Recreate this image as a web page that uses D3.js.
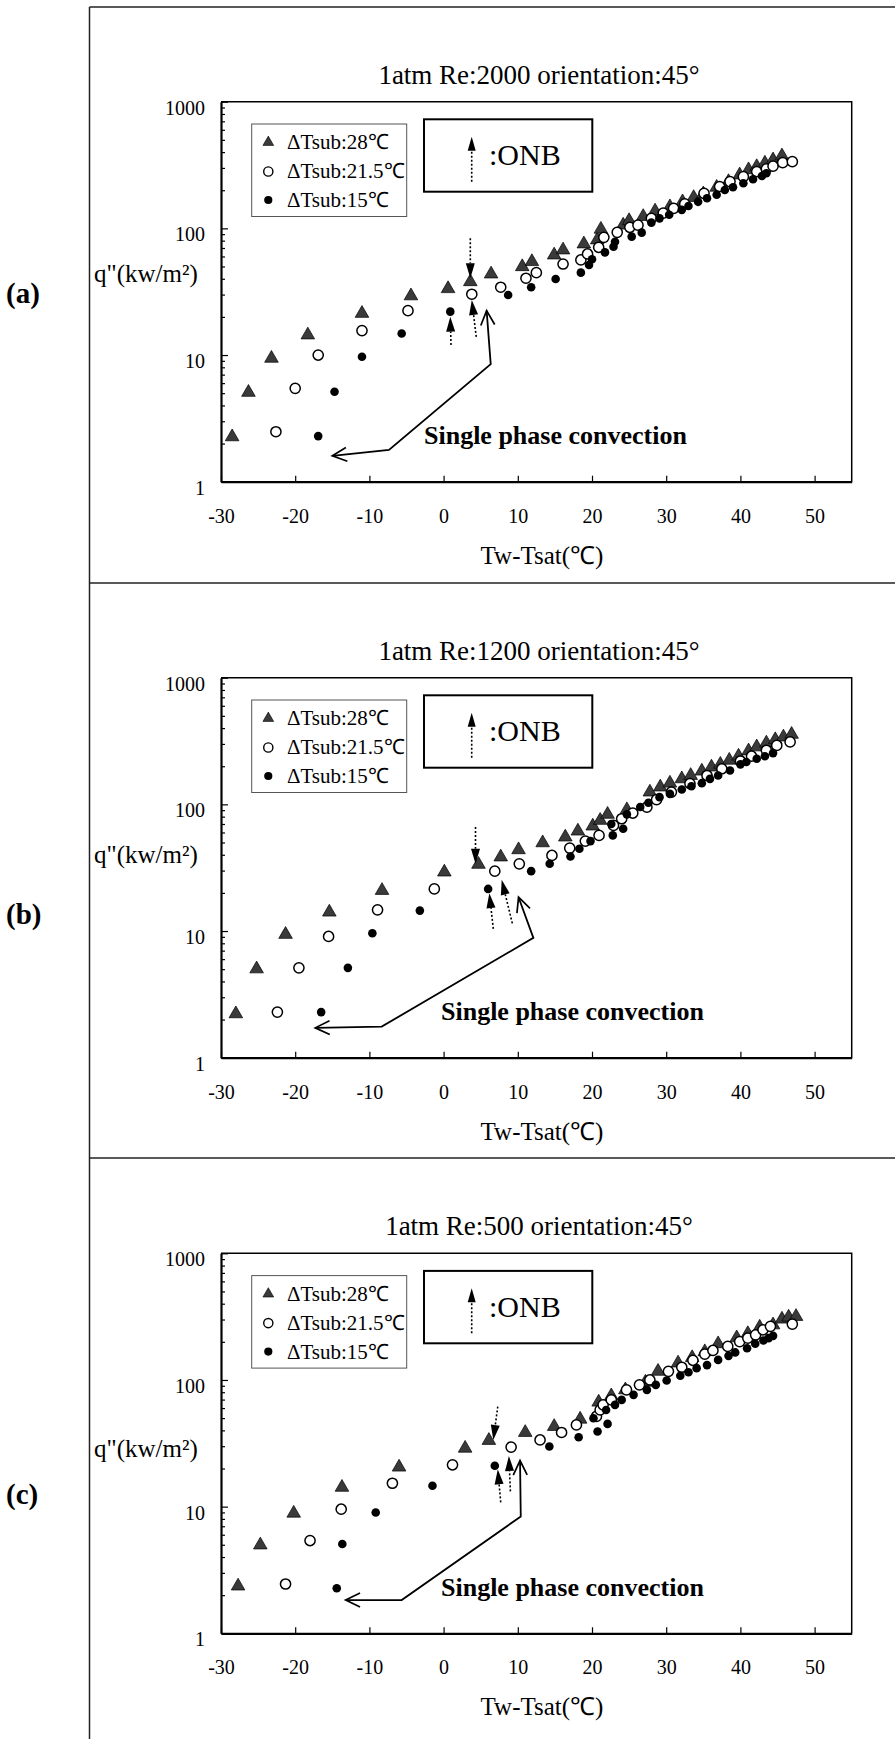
<!DOCTYPE html>
<html>
<head>
<meta charset="utf-8">
<script src="https://cdn.jsdelivr.net/npm/d3@7"></script>
<style>
  body { margin: 0; background: #fff; }
  svg text { font-family: "Liberation Serif", "Times New Roman", serif; fill: #000; }
</style>
</head>
<body>
<svg id="chart" width="895" height="1739"></svg>
<script>
// ---- data: [Tw-Tsat, q"] ----
// Re 2000
const a28 = [[-28.5,2.26],[-26.3,5.07],[-23.2,9.42],[-18.3,14.4],[-11.0,21.3],[-4.4,29.3],[0.6,33.4],[3.6,37.9],[6.4,43.6],[10.6,49.8],[11.9,54.6],[14.9,61.6],[16.1,67.5],[18.9,75.3],[20.7,81],[21.2,98.4],[24.2,106],[25.0,115],[26.9,124],[28.5,137],[30.5,148],[32.2,162],[33.7,175],[35.0,187],[36.8,211],[38.4,234],[39.9,264],[41.1,290],[42.2,307],[43.3,327],[44.4,347],[45.6,373]];
const a21 = [[-22.6,2.48],[-20.0,5.46],[-16.9,10],[-11.0,15.6],[-4.8,22.4],[3.8,30.2],[7.7,34.3],[11.1,40.4],[12.5,44.7],[16.1,52.3],[18.5,56.3],[19.4,62.8],[20.9,70.9],[21.6,85],[23.4,93],[25.1,102],[26.2,106],[28.0,120],[29.6,132],[31.0,144],[32.5,156],[35.1,189],[37.2,214],[38.6,234],[40.4,256],[42.2,281],[43.5,295],[44.4,310],[45.7,330],[47.0,336]];
const a15 = [[-16.9,2.29],[-14.7,5.13],[-11.0,9.7],[-5.65,14.8],[0.9,22],[8.7,29.8],[11.8,34.3],[15.1,39.8],[18.5,44.7],[19.6,51.4],[20.0,57],[21.75,64.6],[22.9,71.6],[23.1,78.5],[25.35,86],[26.7,92.5],[28.0,111],[29.1,120],[30.4,128],[32.1,140],[33.0,150],[34.3,162],[35.5,173],[36.8,184],[37.9,201],[39.0,211],[40.4,227],[41.7,244],[42.9,259],[43.5,272]];
// Re 1200
const b28 = [[-28.0,2.22],[-25.2,5.02],[-21.3,9.4],[-15.4,14.1],[-8.3,20.9],[0.1,29.2],[4.7,33.6],[7.7,38.4],[10.1,43.8],[13.35,49.7],[16.4,55.2],[18.1,61.5],[20.1,67.4],[21.1,74.7],[22.1,83.4],[24.7,90.7],[27.8,125],[29.2,137],[30.5,147],[32.1,159],[33.3,169],[34.8,183],[36.1,197],[37.3,207],[38.5,223],[39.75,240],[41.1,264],[42.2,284],[43.5,305],[44.7,324],[45.8,340],[46.9,357]];
const b21 = [[-22.4,2.29],[-19.5,5.12],[-15.5,9.06],[-8.9,14.7],[-1.25,21.5],[6.9,29.7],[10.2,33.9],[14.6,39.5],[17.0,45.2],[19.1,51.3],[20.95,56.9],[22.9,68.2],[24.0,77],[25.5,85.4],[27.4,95.2],[28.7,109],[30.7,125],[33.2,146],[35.5,169],[37.5,191],[40.0,220],[41.5,240],[43.5,267],[44.9,292],[46.7,311]];
const b15 = [[-16.5,2.29],[-12.9,5.12],[-9.6,9.6],[-3.2,14.5],[6.0,21.5],[11.8,29.7],[14.3,34],[17.1,38.8],[18.3,44.6],[19.8,51.3],[22.8,56.9],[22.6,70],[24.2,64.2],[24.7,83.4],[26.5,95.2],[27.6,103],[29.1,114],[30.5,121],[32.1,131],[33.4,139],[34.8,147],[35.9,159],[37.0,169],[38.6,185],[40.0,207],[40.8,216],[42.2,229],[43.3,240],[44.4,254]];
// Re 500
const c28 = [[-27.7,2.36],[-24.7,4.98],[-20.2,8.87],[-13.7,14.2],[-6.0,20.5],[2.9,28.9],[6.1,33.3],[11.0,38.5],[14.9,42.9],[18.4,49],[20.9,66.8],[22.6,74.9],[24.5,83.5],[27.2,96],[28.9,117],[31.6,136],[33.5,150],[35.2,167],[37.0,193],[39.5,215],[41.0,232],[42.6,261],[44.4,272],[45.6,302],[46.5,313],[47.5,317]];
const c21 = [[-21.3,2.45],[-18.0,5.4],[-13.8,9.54],[-6.9,15.3],[1.2,21.4],[9.1,29.5],[13.0,33.6],[15.9,38.5],[17.9,44.2],[20.6,51.5],[21.1,58],[21.5,63.6],[22.6,69.6],[24.65,83.5],[26.4,91.5],[27.8,100],[30.3,117],[32.1,126],[33.6,143],[35.2,160],[36.3,171],[38.3,184],[39.9,201],[41.0,214],[42.05,227],[43.05,249],[44.05,265],[47.0,276]];
const c15 = [[-14.4,2.27],[-13.65,5.07],[-9.15,8.98],[-1.5,14.6],[6.9,21],[14.25,29.8],[18.2,35.3],[20.75,39.2],[22.1,45],[20.2,49.9],[21.9,58],[23.1,63.6],[24.0,69.6],[25.6,76.3],[27.4,83.5],[28.6,91.5],[30.06,99],[31.9,108],[33.0,115],[34.1,124],[35.5,131],[37.0,144],[38.4,155],[39.3,165],[40.9,178],[42.0,193],[43.1,205],[43.8,214],[44.4,223]];

// ONB arrows: [x tail, q tail, x tip, q tip]
const onbA = [[3.6,83.5,3.6,40.4],[1.0,12.0,0.9,20.1],[4.4,13.9,3.8,27.2]];
const onbB = [[4.3,66.2,4.3,34],[6.7,10.4,6.16,19.9],[9.26,11.5,7.83,25.4]];
const onbC = [[7.3,61.7,6.7,33.6],[7.7,10.8,7.3,19.7],[9.0,13.2,8.8,25.1]];

// "Single phase convection" leader lines (arrow heads at both ends)
const leaderA = [[-15.0,1.60],[-7.36,1.78],[6.35,8.48],[5.8,22.4]];
const leaderB = [[-17.3,1.72],[-8.34,1.76],[12.1,8.83],[10.1,18.5]];
const leaderC = [[-13.2,1.83],[-5.65,1.83],[10.4,8.36],[10.3,23.1]];
const convLabelAt = [[-2.64,1.98],[-0.35,1.97],[-0.35,1.97]];

const titles = ["1atm Re:2000 orientation:45°", "1atm Re:1200 orientation:45°", "1atm Re:500 orientation:45°"];
const panelLetters = ["(a)", "(b)", "(c)"];
const legendLabels = ["ΔTsub:28℃", "ΔTsub:21.5℃", "ΔTsub:15℃"];
const xTicks = [-30, -20, -10, 0, 10, 20, 30, 40, 50];
const yTicks = [1, 10, 100, 1000];
const xDomain = [-30, 55];
const yDomain = [1, 1000];

// ---- layout ----
const W = 895, H = 1739;
const plotLeft = 221, plotRight = 851.7, plotH = 380;
const panelTops = [101.7, 677.7, 1253.3];
const letterY = [293, 914, 1494];
const qLabelY = [274, 855, 1449];

const svg = d3.select("#chart");

// outer frame
svg.append("line").attr("x1", 89.5).attr("x2", 89.5).attr("y1", 7).attr("y2", H)
  .attr("stroke", "#222").attr("stroke-width", 1.5);
[7, 583, 1158].forEach(yy => {
  svg.append("line").attr("x1", 89.5).attr("x2", W).attr("y1", yy).attr("y2", yy)
    .attr("stroke", "#222").attr("stroke-width", 1.5);
});

const panels = [
  { s28: a28, s21: a21, s15: a15, onb: onbA, leader: leaderA },
  { s28: b28, s21: b21, s15: b15, onb: onbB, leader: leaderB },
  { s28: c28, s21: c21, s15: c15, onb: onbC, leader: leaderC }
];

const triSym = d3.symbol().type(d3.symbolTriangle).size(80);
const triLegend = d3.symbol().type(d3.symbolTriangle).size(50);

// dotted shaft + filled head, pixel coords
function onbArrow(g, x1, y1, x2, y2, headLen = 15, headW = 9) {
  const len = Math.hypot(x2 - x1, y2 - y1);
  const ux = (x2 - x1) / len, uy = (y2 - y1) / len;
  const bx = x2 - ux * headLen, by = y2 - uy * headLen;
  g.append("line").attr("x1", x1).attr("y1", y1).attr("x2", bx).attr("y2", by)
    .attr("stroke", "#000").attr("stroke-width", 1.6).attr("stroke-dasharray", "2,2");
  const nx = -uy, ny = ux;
  g.append("path")
    .attr("d", `M${x2},${y2}L${bx + nx * headW / 2},${by + ny * headW / 2}L${bx - nx * headW / 2},${by - ny * headW / 2}Z`)
    .attr("fill", "#000");
}

// open chevron at (tx,ty) pointing away from (fx,fy)
function chevron(g, fx, fy, tx, ty) {
  const a = Math.atan2(ty - fy, tx - fx);
  const L = 16, spread = 0.45;
  const p1 = [tx - L * Math.cos(a - spread), ty - L * Math.sin(a - spread)];
  const p2 = [tx - L * Math.cos(a + spread), ty - L * Math.sin(a + spread)];
  g.append("path").attr("d", `M${p1[0]},${p1[1]}L${tx},${ty}L${p2[0]},${p2[1]}`)
    .attr("fill", "none").attr("stroke", "#000").attr("stroke-width", 1.7);
}

panels.forEach((p, i) => {
  const top = panelTops[i], bottom = top + plotH;
  const x = d3.scaleLinear().domain(xDomain).range([plotLeft, plotRight]);
  const y = d3.scaleLog().domain(yDomain).range([bottom, top]);
  const g = svg.append("g");

  // title
  g.append("text").attr("x", 539).attr("y", top - 18).attr("text-anchor", "middle")
    .attr("font-size", 27).text(titles[i]);

  // panel letter and y label
  g.append("text").attr("x", 6).attr("y", letterY[i] + 10).attr("font-size", 29)
    .attr("font-weight", "bold").text(panelLetters[i]);
  g.append("text").attr("x", 94).attr("y", qLabelY[i] + 8).attr("font-size", 25)
    .text('q"(kw/m²)');

  // plot box top/right
  g.append("path").attr("d", `M${plotLeft},${top}H${plotRight}V${bottom}`)
    .attr("fill", "none").attr("stroke", "#000").attr("stroke-width", 1.5);

  // x axis
  const xAxis = g.append("g").attr("transform", `translate(0,${bottom})`)
    .call(d3.axisBottom(x).tickValues(xTicks).tickFormat(d => String(d))
      .tickSize(-6).tickSizeOuter(0).tickPadding(27));
  xAxis.select(".domain").attr("stroke-width", 2.2);
  xAxis.selectAll(".tick line").attr("stroke-width", 1.2);
  xAxis.selectAll("text").attr("font-size", 20).attr("font-family", "Liberation Serif");

  // y axis, minor ticks first
  const minor = [];
  [1, 10, 100].forEach(d => { for (let k = 2; k <= 9; k++) minor.push(k * d); });
  g.append("g").attr("transform", `translate(${plotLeft},0)`)
    .call(d3.axisLeft(y).tickValues(minor).tickFormat("").tickSize(-4).tickSizeOuter(0))
    .call(s => s.select(".domain").remove())
    .selectAll(".tick line").attr("stroke-width", 1.2);
  const yAxis = g.append("g").attr("transform", `translate(${plotLeft},0)`)
    .call(d3.axisLeft(y).tickValues(yTicks).tickFormat(d => String(d))
      .tickSize(-7).tickSizeOuter(0).tickPadding(16));
  yAxis.select(".domain").attr("stroke-width", 2.2);
  yAxis.selectAll(".tick line").attr("stroke-width", 1.2);
  yAxis.selectAll("text").attr("font-size", 20).attr("dy", "0.62em")
    .attr("font-family", "Liberation Serif");

  // x title
  g.append("text").attr("x", 542).attr("y", bottom + 82).attr("text-anchor", "middle")
    .attr("font-size", 25).text("Tw-Tsat(℃)");

  // data
  g.append("g").selectAll("path").data(p.s28).join("path")
    .attr("d", triSym)
    .attr("transform", d => `translate(${x(d[0])},${y(d[1])})`)
    .attr("fill", "#3a3a3a").attr("stroke", "#000").attr("stroke-width", 0.7);
  g.append("g").selectAll("circle").data(p.s21).join("circle")
    .attr("cx", d => x(d[0])).attr("cy", d => y(d[1])).attr("r", 5.1)
    .attr("fill", "#fff").attr("stroke", "#000").attr("stroke-width", 1.5);
  g.append("g").selectAll("circle").data(p.s15).join("circle")
    .attr("cx", d => x(d[0])).attr("cy", d => y(d[1])).attr("r", 4.3)
    .attr("fill", "#000");

  // ONB arrows
  p.onb.forEach(a => onbArrow(g, x(a[0]), y(a[1]), x(a[2]), y(a[3])));

  // leader line + label
  const pts = p.leader.map(d => [x(d[0]), y(d[1])]);
  g.append("path").attr("d", d3.line()(pts)).attr("fill", "none")
    .attr("stroke", "#000").attr("stroke-width", 1.8);
  chevron(g, pts[1][0], pts[1][1], pts[0][0], pts[0][1]);
  const n = pts.length;
  chevron(g, pts[n - 2][0], pts[n - 2][1], pts[n - 1][0], pts[n - 1][1]);
  g.append("text").attr("x", x(convLabelAt[i][0])).attr("y", y(convLabelAt[i][1]))
    .attr("font-size", 26).attr("font-weight", "bold").text("Single phase convection");

  // legend box
  const lg = g.append("g").attr("transform", `translate(${plotLeft},${top})`);
  lg.append("rect").attr("x", 30.7).attr("y", 22.3).attr("width", 155).attr("height", 92.5)
    .attr("fill", "#fff").attr("stroke", "#555").attr("stroke-width", 1);
  const rowY = [40.6, 69.8, 98.3];
  lg.append("path").attr("d", triLegend).attr("transform", `translate(47.3,${rowY[0]})`)
    .attr("fill", "#3a3a3a").attr("stroke", "#000").attr("stroke-width", 0.6);
  lg.append("circle").attr("cx", 47.3).attr("cy", rowY[1]).attr("r", 4.6)
    .attr("fill", "#fff").attr("stroke", "#000").attr("stroke-width", 1.4);
  lg.append("circle").attr("cx", 47.3).attr("cy", rowY[2]).attr("r", 4.1).attr("fill", "#000");
  legendLabels.forEach((t, k) => {
    lg.append("text").attr("x", 66).attr("y", rowY[k] + 7).attr("font-size", 21).text(t);
  });

  // ONB key box
  lg.append("rect").attr("x", 203).attr("y", 17.6).attr("width", 168.3).attr("height", 72.4)
    .attr("fill", "#fff").attr("stroke", "#000").attr("stroke-width", 2);
  onbArrow(lg, 250.7, 80, 250.7, 35, 14, 8);
  lg.append("text").attr("x", 268).attr("y", 63.3).attr("font-size", 30).text(":ONB");
});
</script>
</body>
</html>
